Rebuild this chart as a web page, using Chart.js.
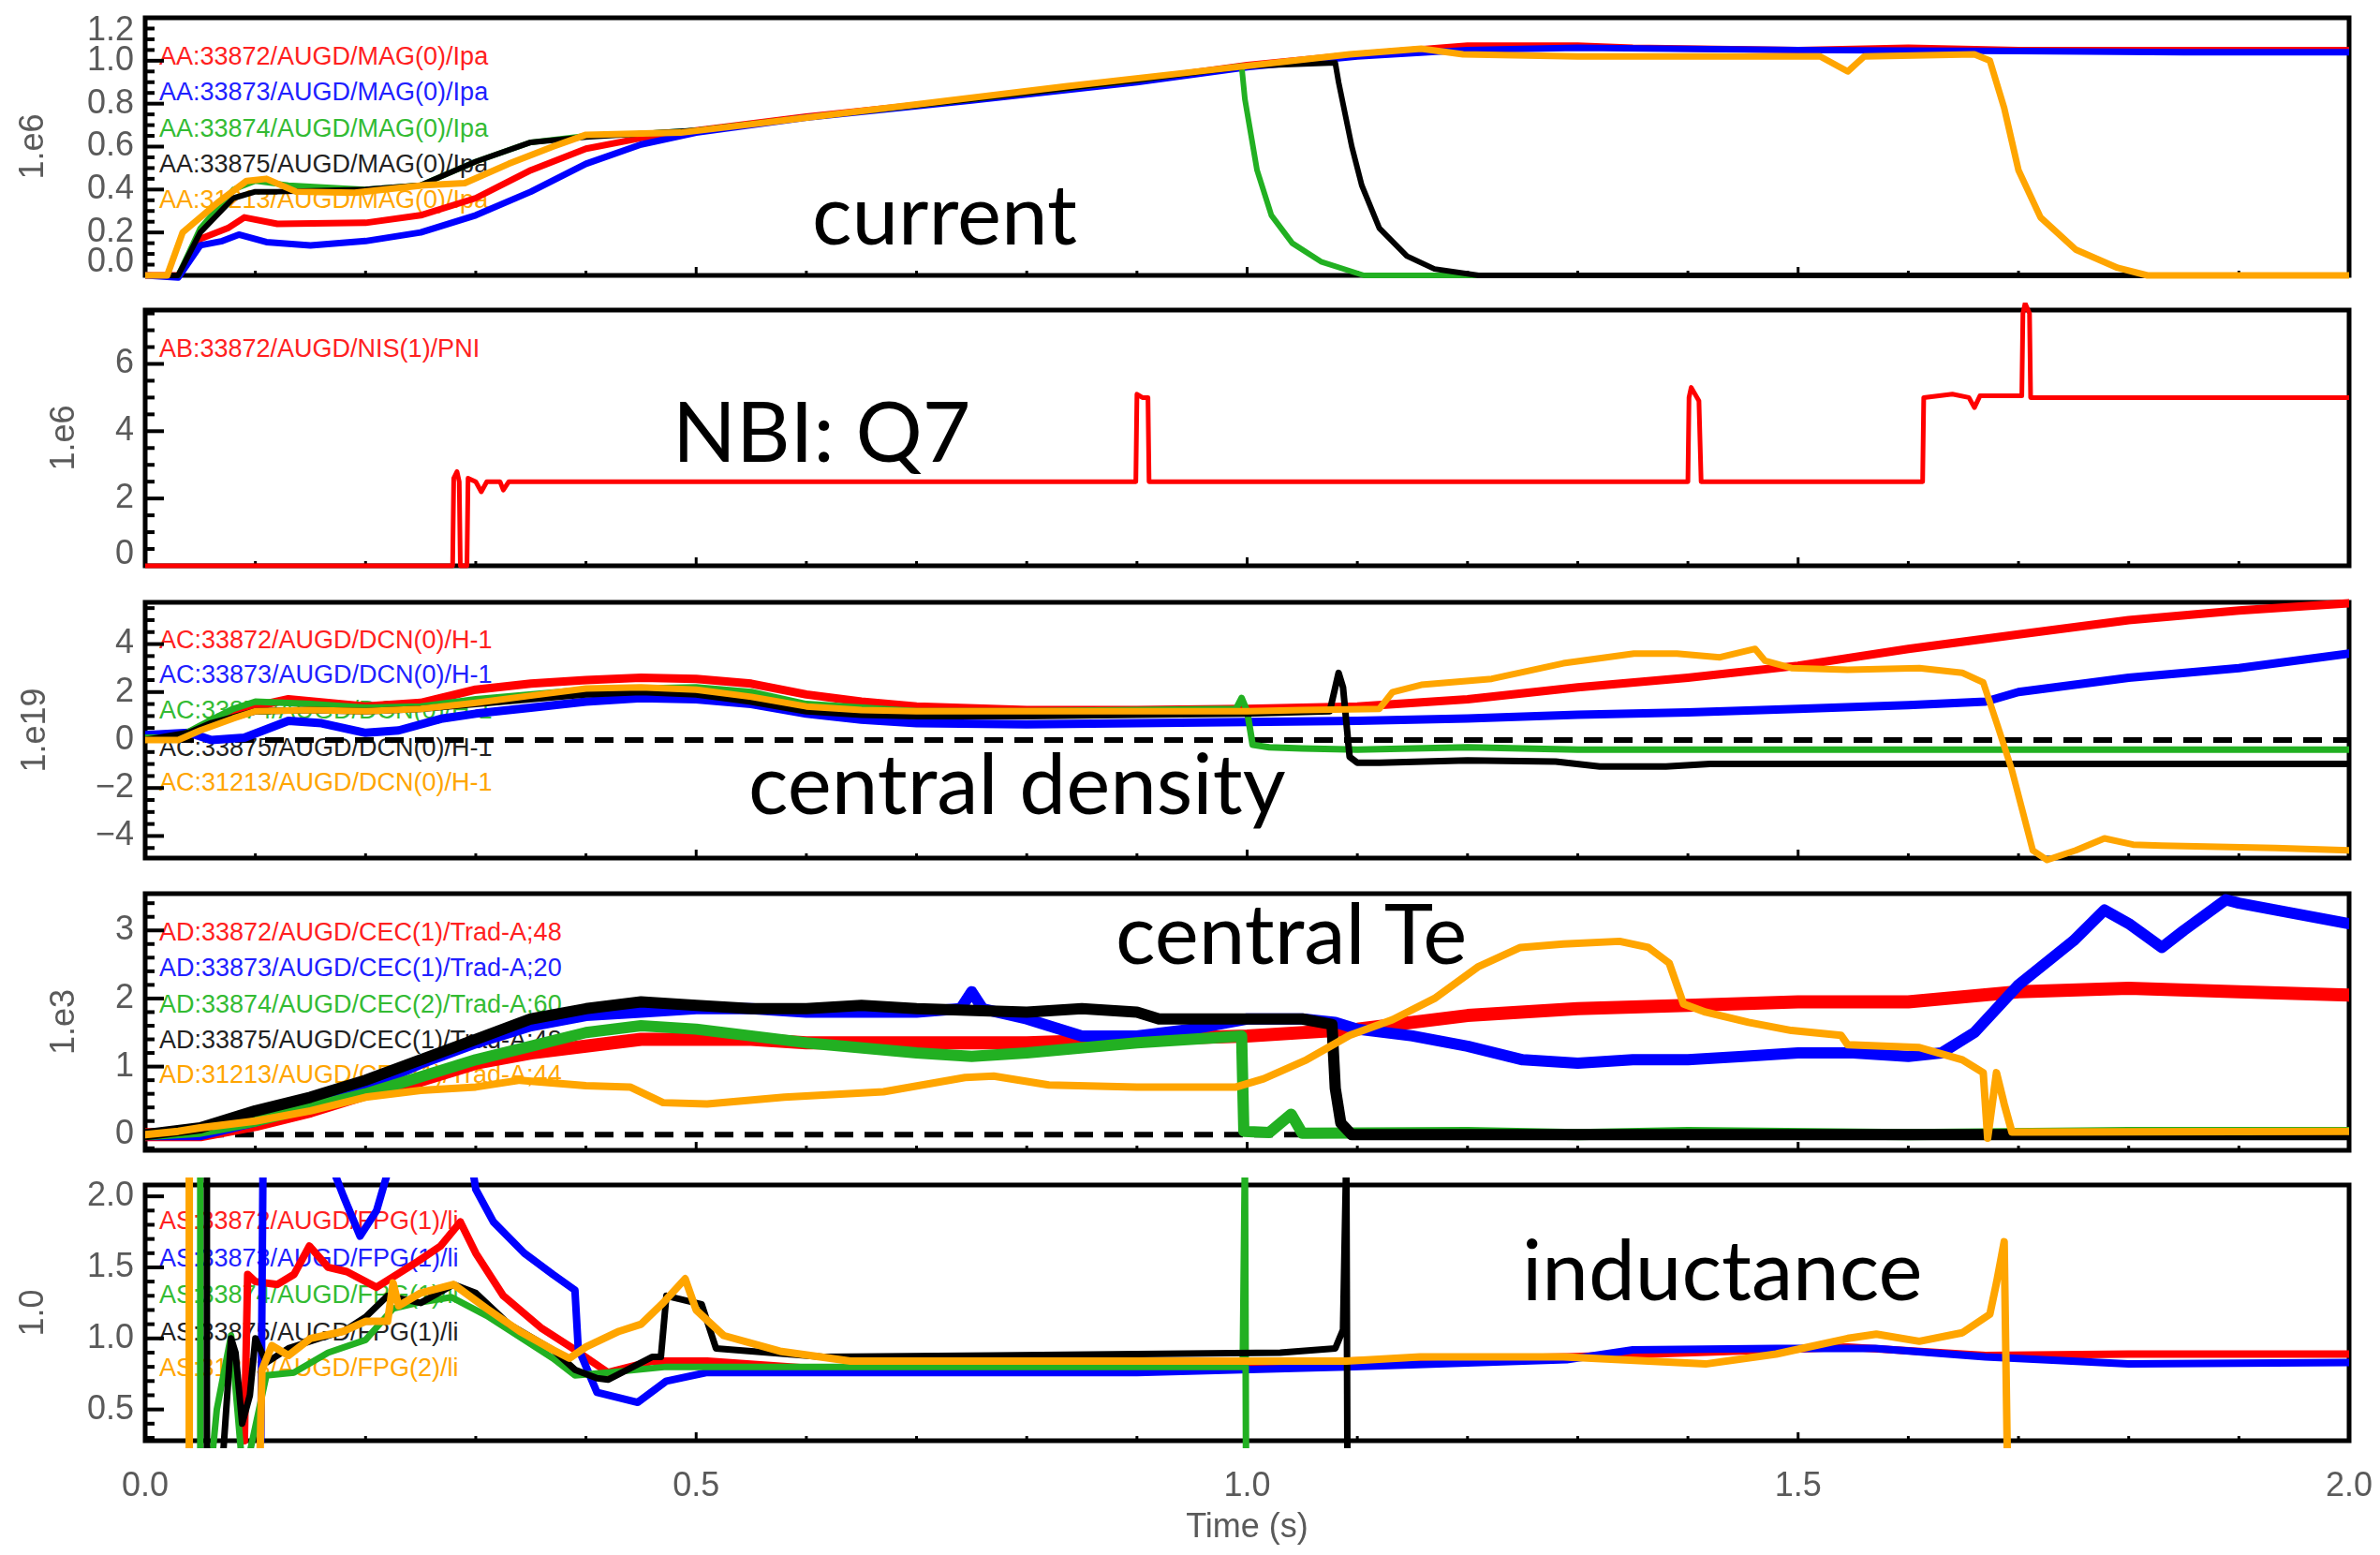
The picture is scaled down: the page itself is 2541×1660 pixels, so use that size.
<!DOCTYPE html>
<html>
<head>
<meta charset="utf-8">
<script src="https://cdn.jsdelivr.net/npm/chart.js@4.4.0/dist/chart.umd.min.js"></script>
<style>
  body { margin: 0; width: 2541px; height: 1660px; background: #fff; position: relative; overflow: hidden; }
  canvas { position: absolute; left: 0; }
  .leg { position: absolute; left: 170px; font: 27px "Liberation Sans", Arial, sans-serif; line-height: 1; white-space: nowrap; transform: translateY(-50%); }
  .big { position: absolute; font: 89px Lato, "Open Sans", sans-serif; line-height: 90px; white-space: nowrap; color: #000; }
</style>
</head>
<body>

<!-- series labels, sit under the traces like in the original plot -->
<div class="leg" style="top:60px;color:#ff2020">AA:33872/AUGD/MAG(0)/Ipa</div>
<div class="leg" style="top:98px;color:#2020ff">AA:33873/AUGD/MAG(0)/Ipa</div>
<div class="leg" style="top:137px;color:#33bb33">AA:33874/AUGD/MAG(0)/Ipa</div>
<div class="leg" style="top:175px;color:#222">AA:33875/AUGD/MAG(0)/Ipa</div>
<div class="leg" style="top:213px;color:#ffa500">AA:31213/AUGD/MAG(0)/Ipa</div>

<div class="leg" style="top:372px;color:#ff2020">AB:33872/AUGD/NIS(1)/PNI</div>

<div class="leg" style="top:683px;color:#ff2020">AC:33872/AUGD/DCN(0)/H-1</div>
<div class="leg" style="top:720px;color:#2020ff">AC:33873/AUGD/DCN(0)/H-1</div>
<div class="leg" style="top:758px;color:#33bb33">AC:33874/AUGD/DCN(0)/H-1</div>
<div class="leg" style="top:798px;color:#222">AC:33875/AUGD/DCN(0)/H-1</div>
<div class="leg" style="top:835px;color:#ffa500">AC:31213/AUGD/DCN(0)/H-1</div>

<div class="leg" style="top:995px;color:#ff2020">AD:33872/AUGD/CEC(1)/Trad-A;48</div>
<div class="leg" style="top:1033px;color:#2020ff">AD:33873/AUGD/CEC(1)/Trad-A;20</div>
<div class="leg" style="top:1072px;color:#33bb33">AD:33874/AUGD/CEC(2)/Trad-A;60</div>
<div class="leg" style="top:1110px;color:#222">AD:33875/AUGD/CEC(1)/Trad-A;48</div>
<div class="leg" style="top:1147px;color:#ffa500">AD:31213/AUGD/CEC(1)/Trad-A;44</div>

<div class="leg" style="top:1303px;color:#ff2020">AS:33872/AUGD/FPG(1)/li</div>
<div class="leg" style="top:1343px;color:#2020ff">AS:33873/AUGD/FPG(1)/li</div>
<div class="leg" style="top:1382px;color:#33bb33">AS:33874/AUGD/FPG(1)/li</div>
<div class="leg" style="top:1422px;color:#222">AS:33875/AUGD/FPG(1)/li</div>
<div class="leg" style="top:1460px;color:#ffa500">AS:31213/AUGD/FPG(2)/li</div>

<canvas id="cIp"></canvas>
<canvas id="cNbi"></canvas>
<canvas id="cNe"></canvas>
<canvas id="cTe"></canvas>
<canvas id="cLi"></canvas>

<div class="big" style="left:867px;top:182px">current</div>
<div class="big" style="left:718px;top:414px">NBI: Q7</div>
<div class="big" style="left:799px;top:790px">central density</div>
<div class="big" style="left:1191px;top:950px">central Te</div>
<div class="big" style="left:1625px;top:1309px">inductance</div>

<script>
////////////////////////////// DATA: [time (s), value] //////////////////////////////

// plasma current, 1e6 A
const ip33872 = [[0,0],[0.03,0],[0.05,0.17],[0.075,0.22],[0.09,0.27],[0.12,0.24],[0.2,0.245],[0.25,0.28],[0.3,0.36],[0.35,0.49],[0.4,0.59],[0.45,0.64],[0.5,0.675],[0.6,0.74],[0.75,0.82],[0.9,0.91],[1.0,0.98],[1.1,1.03],[1.2,1.07],[1.3,1.07],[1.35,1.06],[1.5,1.05],[1.6,1.06],[1.7,1.05],[1.8,1.05],[1.9,1.05],[2.0,1.05]];
const ip33873 = [[0,0],[0.03,-0.01],[0.05,0.14],[0.07,0.16],[0.085,0.19],[0.11,0.155],[0.15,0.14],[0.2,0.16],[0.25,0.2],[0.3,0.28],[0.35,0.39],[0.4,0.52],[0.45,0.61],[0.5,0.665],[0.6,0.735],[0.75,0.815],[0.9,0.9],[1.0,0.97],[1.1,1.02],[1.2,1.05],[1.3,1.06],[1.5,1.05],[1.7,1.045],[1.85,1.04],[2.0,1.04]];
const ip33874 = [[0,0],[0.03,0],[0.05,0.22],[0.08,0.4],[0.1,0.44],[0.13,0.42],[0.2,0.4],[0.25,0.42],[0.3,0.53],[0.35,0.62],[0.4,0.65],[0.45,0.66],[0.5,0.675],[0.6,0.735],[0.75,0.82],[0.9,0.91],[0.995,0.975],[0.998,0.82],[1.009,0.49],[1.022,0.28],[1.041,0.15],[1.067,0.064],[1.106,0],[1.5,0],[2.0,0]];
const ip33875 = [[0,0],[0.03,0],[0.05,0.2],[0.08,0.36],[0.1,0.39],[0.12,0.39],[0.2,0.4],[0.25,0.42],[0.3,0.53],[0.35,0.62],[0.4,0.645],[0.45,0.66],[0.5,0.675],[0.6,0.735],[0.75,0.82],[0.9,0.91],[1.0,0.975],[1.08,0.99],[1.083,0.9],[1.095,0.6],[1.104,0.42],[1.12,0.22],[1.145,0.09],[1.17,0.03],[1.21,0],[2.0,0]];
const ip31213 = [[0,0],[0.02,0],[0.034,0.2],[0.066,0.34],[0.092,0.44],[0.11,0.45],[0.137,0.39],[0.19,0.385],[0.253,0.42],[0.29,0.43],[0.33,0.52],[0.37,0.6],[0.4,0.655],[0.486,0.665],[0.576,0.72],[0.705,0.8],[0.835,0.88],[0.964,0.955],[1.093,1.03],[1.158,1.056],[1.196,1.03],[1.3,1.02],[1.45,1.02],[1.52,1.02],[1.545,0.95],[1.56,1.02],[1.66,1.03],[1.674,1.0],[1.687,0.78],[1.70,0.49],[1.72,0.27],[1.752,0.12],[1.79,0.035],[1.817,0],[2.0,0]];

// NBI power, 1e6 W
const pni33872 = [[0,0],[0.279,0],[0.28,2.6],[0.283,2.8],[0.285,2.5],[0.286,0],[0.292,0],[0.293,2.6],[0.3,2.5],[0.305,2.2],[0.31,2.5],[0.322,2.5],[0.325,2.25],[0.33,2.5],[0.899,2.5],[0.9,5.1],[0.905,5.0],[0.91,5.0],[0.911,2.5],[1.4,2.5],[1.401,5.0],[1.403,5.3],[1.41,4.9],[1.412,2.5],[1.613,2.5],[1.614,5.0],[1.64,5.1],[1.655,5.0],[1.66,4.7],[1.665,5.05],[1.703,5.05],[1.704,7.5],[1.706,7.8],[1.71,7.5],[1.711,5.0],[2.0,5.0]];

// central density, 1e19 m^-3
const ne33872 = [[0,0.1],[0.03,0.1],[0.05,0.5],[0.08,1.0],[0.1,1.4],[0.13,1.7],[0.2,1.4],[0.25,1.55],[0.3,2.1],[0.35,2.35],[0.4,2.5],[0.45,2.6],[0.5,2.55],[0.55,2.35],[0.6,1.9],[0.65,1.6],[0.7,1.4],[0.8,1.25],[0.9,1.25],[1.0,1.3],[1.1,1.4],[1.2,1.7],[1.3,2.2],[1.4,2.6],[1.5,3.1],[1.6,3.8],[1.7,4.4],[1.8,5.0],[1.9,5.4],[2.0,5.7]];
const ne33873 = [[0,0.2],[0.04,0.3],[0.06,0.0],[0.09,0.1],[0.13,0.8],[0.16,0.7],[0.2,0.3],[0.23,0.4],[0.27,0.9],[0.3,1.1],[0.35,1.35],[0.4,1.6],[0.45,1.75],[0.5,1.7],[0.55,1.5],[0.6,1.1],[0.65,0.85],[0.7,0.7],[0.8,0.65],[0.9,0.7],[1.0,0.75],[1.1,0.8],[1.2,0.9],[1.3,1.05],[1.4,1.15],[1.5,1.3],[1.6,1.45],[1.67,1.6],[1.7,2.0],[1.8,2.6],[1.9,3.0],[2.0,3.6]];
const ne33874 = [[0,0.1],[0.03,0.1],[0.05,0.6],[0.08,1.3],[0.1,1.6],[0.15,1.5],[0.2,1.35],[0.25,1.4],[0.3,1.7],[0.4,2.1],[0.5,2.2],[0.55,2.0],[0.6,1.5],[0.7,1.2],[0.8,1.2],[0.9,1.25],[0.99,1.3],[0.995,1.75],[1.0,1.2],[1.005,-0.2],[1.02,-0.3],[1.05,-0.35],[1.1,-0.4],[1.2,-0.3],[1.3,-0.4],[1.5,-0.4],[1.7,-0.4],[2.0,-0.4]];
const ne33875 = [[0,0.0],[0.04,0.3],[0.06,0.7],[0.1,1.2],[0.15,1.25],[0.2,1.2],[0.25,1.3],[0.3,1.5],[0.4,1.9],[0.45,2.0],[0.5,1.9],[0.55,1.6],[0.6,1.2],[0.65,1.05],[0.7,1.0],[0.8,1.0],[0.9,1.05],[1.0,1.1],[1.075,1.2],[1.083,2.8],[1.087,2.2],[1.093,-0.7],[1.1,-0.95],[1.12,-0.95],[1.2,-0.85],[1.28,-0.9],[1.32,-1.1],[1.38,-1.1],[1.42,-1.0],[1.6,-1.0],[1.8,-1.0],[2.0,-1.0]];
const ne31213 = [[0,0.0],[0.03,0.0],[0.05,0.4],[0.08,0.9],[0.1,1.2],[0.15,1.25],[0.2,1.2],[0.25,1.3],[0.3,1.55],[0.35,1.85],[0.4,2.15],[0.45,2.2],[0.5,2.1],[0.55,1.8],[0.6,1.4],[0.65,1.25],[0.7,1.2],[0.8,1.2],[0.9,1.2],[1.0,1.2],[1.05,1.25],[1.12,1.3],[1.132,2.0],[1.158,2.3],[1.222,2.55],[1.287,3.2],[1.351,3.6],[1.39,3.6],[1.429,3.45],[1.461,3.8],[1.47,3.3],[1.494,3.0],[1.545,2.93],[1.61,3.0],[1.649,2.8],[1.668,2.4],[1.681,0.6],[1.694,-1.25],[1.713,-4.6],[1.726,-5.0],[1.752,-4.6],[1.778,-4.1],[1.804,-4.36],[1.83,-4.4],[1.933,-4.5],[2.0,-4.6]];

// central electron temperature, 1e3 eV
const te33872 = [[0,0.0],[0.05,0.0],[0.1,0.15],[0.15,0.35],[0.2,0.6],[0.25,0.8],[0.3,1.05],[0.35,1.2],[0.4,1.3],[0.45,1.4],[0.5,1.4],[0.55,1.4],[0.6,1.35],[0.7,1.35],[0.8,1.35],[0.9,1.4],[1.0,1.45],[1.1,1.55],[1.2,1.75],[1.3,1.85],[1.4,1.9],[1.5,1.95],[1.6,1.95],[1.7,2.1],[1.8,2.15],[1.9,2.1],[2.0,2.05]];
const te33873 = [[0,0.0],[0.05,0.0],[0.1,0.2],[0.15,0.45],[0.2,0.7],[0.25,1.05],[0.3,1.35],[0.35,1.6],[0.4,1.75],[0.45,1.8],[0.5,1.85],[0.55,1.85],[0.6,1.8],[0.7,1.8],[0.74,1.85],[0.75,2.1],[0.76,1.85],[0.8,1.7],[0.85,1.45],[0.9,1.45],[0.95,1.55],[1.0,1.7],[1.05,1.7],[1.08,1.65],[1.1,1.55],[1.15,1.45],[1.2,1.3],[1.25,1.1],[1.3,1.05],[1.35,1.1],[1.4,1.1],[1.45,1.15],[1.5,1.2],[1.55,1.2],[1.6,1.15],[1.63,1.2],[1.66,1.5],[1.7,2.2],[1.75,2.85],[1.778,3.3],[1.8,3.1],[1.83,2.75],[1.85,3.0],[1.888,3.45],[1.9,3.4],[1.95,3.25],[2.0,3.1]];
const te33874 = [[0,0.0],[0.05,0.05],[0.1,0.2],[0.15,0.4],[0.2,0.6],[0.25,0.85],[0.3,1.1],[0.35,1.3],[0.4,1.5],[0.45,1.6],[0.5,1.55],[0.55,1.45],[0.6,1.35],[0.7,1.2],[0.75,1.15],[0.8,1.2],[0.9,1.35],[0.995,1.45],[0.997,0.05],[1.02,0.03],[1.04,0.3],[1.05,0.02],[1.2,0.03],[1.3,0.0],[1.4,0.03],[1.6,0.0],[1.8,0.03],[2.0,0.03]];
const te33875 = [[0,0.0],[0.05,0.1],[0.1,0.35],[0.15,0.55],[0.2,0.8],[0.25,1.1],[0.3,1.4],[0.35,1.7],[0.4,1.85],[0.45,1.95],[0.5,1.9],[0.55,1.85],[0.6,1.85],[0.65,1.9],[0.7,1.85],[0.8,1.8],[0.85,1.85],[0.9,1.8],[0.92,1.7],[1.0,1.7],[1.05,1.7],[1.077,1.62],[1.08,0.68],[1.085,0.17],[1.095,0.0],[1.5,0.0],[2.0,0.0]];
const te31213 = [[0,0.0],[0.03,0.05],[0.05,0.1],[0.1,0.2],[0.15,0.35],[0.2,0.55],[0.25,0.65],[0.3,0.7],[0.34,0.8],[0.4,0.72],[0.44,0.7],[0.47,0.47],[0.51,0.45],[0.58,0.55],[0.67,0.63],[0.744,0.84],[0.77,0.86],[0.82,0.73],[0.9,0.7],[0.99,0.7],[1.015,0.82],[1.054,1.1],[1.093,1.46],[1.132,1.69],[1.17,2.0],[1.21,2.47],[1.248,2.75],[1.287,2.8],[1.338,2.84],[1.364,2.75],[1.383,2.52],[1.396,1.92],[1.416,1.8],[1.455,1.65],[1.494,1.53],[1.539,1.46],[1.545,1.32],[1.61,1.28],[1.649,1.1],[1.668,0.91],[1.672,-0.05],[1.68,0.91],[1.687,0.45],[1.694,0.04],[2.0,0.05]];

// internal inductance li
const li33872 = [[0.09,0.28],[0.093,1.45],[0.1,1.4],[0.12,1.38],[0.135,1.45],[0.149,1.65],[0.166,1.5],[0.183,1.47],[0.21,1.36],[0.247,1.54],[0.268,1.65],[0.286,1.82],[0.3,1.6],[0.325,1.3],[0.36,1.07],[0.39,0.92],[0.42,0.76],[0.46,0.84],[0.51,0.84],[0.64,0.77],[0.9,0.78],[1.09,0.84],[1.29,0.87],[1.48,0.92],[1.545,0.94],[1.67,0.88],[1.8,0.89],[2.0,0.89]];
const li33873 = [[0.105,0.28],[0.107,2.3],[0.165,2.3],[0.18,2.0],[0.195,1.72],[0.21,1.9],[0.225,2.3],[0.295,2.3],[0.3,2.05],[0.316,1.82],[0.344,1.6],[0.37,1.45],[0.39,1.34],[0.393,0.93],[0.41,0.62],[0.447,0.55],[0.473,0.7],[0.51,0.76],[0.64,0.76],[0.9,0.76],[1.09,0.8],[1.29,0.85],[1.35,0.92],[1.48,0.93],[1.57,0.93],[1.67,0.87],[1.8,0.82],[2.0,0.83]];
const li33874 = [[0.05,2.3],[0.05,0.1],[0.06,0.1],[0.065,0.5],[0.078,1.02],[0.087,0.2],[0.095,0.2],[0.11,0.74],[0.135,0.76],[0.166,0.9],[0.2,0.99],[0.225,1.21],[0.247,1.25],[0.278,1.29],[0.31,1.16],[0.344,0.99],[0.37,0.86],[0.39,0.74],[0.42,0.76],[0.473,0.8],[0.64,0.8],[0.9,0.8],[0.996,0.8],[0.998,2.3],[0.999,0.1]];
const li33875 = [[0.056,2.3],[0.056,0.1],[0.07,0.1],[0.078,1.0],[0.082,0.9],[0.088,0.4],[0.095,0.6],[0.1,1.0],[0.11,0.83],[0.13,0.93],[0.166,1.02],[0.18,1.05],[0.2,1.15],[0.22,1.3],[0.25,1.25],[0.28,1.38],[0.3,1.32],[0.33,1.1],[0.37,0.92],[0.39,0.78],[0.41,0.72],[0.42,0.71],[0.46,0.87],[0.468,0.87],[0.473,1.3],[0.505,1.24],[0.518,0.93],[0.55,0.91],[0.615,0.87],[0.77,0.88],[0.9,0.89],[1.03,0.9],[1.08,0.93],[1.087,1.06],[1.09,2.3],[1.091,0.1]];
const li31213 = [[0.04,2.3],[0.04,0.1],[0.104,0.1],[0.106,0.78],[0.115,0.95],[0.13,0.88],[0.15,1.0],[0.18,1.05],[0.2,1.12],[0.22,1.12],[0.225,1.39],[0.23,1.23],[0.25,1.32],[0.28,1.38],[0.31,1.21],[0.34,1.05],[0.37,0.92],[0.385,0.86],[0.4,0.94],[0.43,1.05],[0.45,1.1],[0.47,1.25],[0.49,1.42],[0.5,1.2],[0.525,1.02],[0.576,0.91],[0.64,0.84],[0.9,0.84],[1.09,0.84],[1.157,0.87],[1.287,0.87],[1.416,0.82],[1.48,0.89],[1.545,1.0],[1.571,1.03],[1.61,0.98],[1.649,1.04],[1.674,1.17],[1.68,1.39],[1.687,1.68],[1.69,0.1]];

// zero reference (dashed)
const zeroLine = [[0,0],[2,0]];

// axis ticks
const ipTicks = [0, 0.2, 0.4, 0.6, 0.8, 1.0, 1.2];
const ipLabels = ['0.0', '0.2', '0.4', '0.6', '0.8', '1.0', '1.2'];
const nbiTicks = [0, 2, 4, 6];
const nbiLabels = ['0', '2', '4', '6'];
const neTicks = [-4, -2, 0, 2, 4];
const neLabels = ['\u22124', '\u22122', '0', '2', '4'];
const teTicks = [0, 1, 2, 3];
const teLabels = ['0', '1', '2', '3'];
const liTicks = [0.5, 1.0, 1.5, 2.0];
const liLabels = ['0.5', '1.0', '1.5', '2.0'];
const timeTicks = [0, 0.5, 1.0, 1.5, 2.0];
const timeLabels = ['0.0', '0.5', '1.0', '1.5', '2.0'];

////////////////////////////// CHART SETUP //////////////////////////////
const W = 2541, H = 1660, AX_L = 155, AX_R = 2508;
const RED = '#ff0000', BLUE = '#0000ff', GREEN = '#22b022', BLACK = '#000000', ORANGE = '#ffa500';
const LABEL_FONT = { family: '"Liberation Sans", Arial, sans-serif', size: 36 };
const GREY = '#5a5a5a';

function toXY(arr) {
  return arr.map((p) => ({ x: p[0], y: p[1] }));
}

function trace(data, color, width, order) {
  return {
    data: toXY(data),
    borderColor: color,
    borderWidth: width,
    pointRadius: 0,
    tension: 0,
    fill: false,
    order: order,
    borderJoinStyle: 'round',
    borderCapStyle: 'round',
    clip: { left: 0, right: 0, top: 8, bottom: 8 },
  };
}

function dashed() {
  return {
    data: toXY(zeroLine),
    borderColor: BLACK,
    borderWidth: 6,
    borderDash: [20, 12],
    pointRadius: 0,
    order: 9,
  };
}

// no extra room for edge labels: the box must sit exactly where the original has it
function noPad(s) {
  s.paddingTop = 0;
  s.paddingBottom = 0;
  s.paddingLeft = 0;
  s.paddingRight = 0;
}

// frame + inward ticks, drawn under the traces
const framePlugin = {
  id: 'frame',
  beforeDatasetsDraw(chart, args, o) {
    const { ctx, chartArea: a, scales } = chart;
    const x = scales.x, y = scales.y;
    ctx.save();
    ctx.strokeStyle = '#000';
    ctx.lineWidth = 4;
    const k0 = Math.ceil(y.min / o.minor - 1e-6);
    for (let k = k0; k * o.minor <= y.max + 1e-9; k++) {
      const v = k * o.minor;
      const major = o.major.some((m) => Math.abs(m - v) < 1e-6);
      const py = y.getPixelForValue(v);
      ctx.beginPath();
      ctx.moveTo(a.left, py);
      ctx.lineTo(a.left + (major ? 20 : 10), py);
      ctx.stroke();
    }
    ctx.lineWidth = 3;
    for (let k = 0; k <= 20; k++) {
      const px = x.getPixelForValue(k / 10);
      ctx.beginPath();
      ctx.moveTo(px, a.bottom);
      ctx.lineTo(px, a.bottom - (k % 5 === 0 ? 9 : 5));
      ctx.stroke();
    }
    ctx.lineWidth = 5;
    ctx.strokeRect(a.left, a.top, a.right - a.left, a.bottom - a.top);
    ctx.restore();
  },
};

function panel(id, top, h, o) {
  const cv = document.getElementById(id);
  const padT = 10;
  const room = o.last ? H - top - h : 10;
  cv.width = W;
  cv.height = h + padT + room;
  cv.style.top = (top - padT) + 'px';

  // labels at the very edge of the box get pushed inside (IDL does that)
  const perPx = (o.max - o.min) / h;
  const nudge = (v) => {
    if (Math.abs(v - o.min) < 1e-9) return v + (o.nudge || 0) * perPx;
    if (Math.abs(v - o.max) < 0.02 * (o.max - o.min)) return v - (o.nudge || 0) * perPx;
    return v;
  };

  const xScale = {
    type: 'linear', min: 0, max: 2, display: !!o.last,
    grid: { display: false, drawTicks: false }, border: { display: false },
    afterFit: (s) => { noPad(s); if (o.last) s.height = room; },
  };
  if (o.last) {
    xScale.afterBuildTicks = (s) => { s.ticks = timeTicks.map((v) => ({ value: v })); };
    xScale.ticks = { autoSkip: false, maxRotation: 0, padding: 27, color: GREY, font: LABEL_FONT, callback: (v, i) => timeLabels[i] };
    xScale.title = { display: true, text: 'Time (s)', color: GREY, font: LABEL_FONT, padding: { top: 0, bottom: 7 } };
  }

  return new Chart(cv, {
    type: 'line',
    data: { datasets: o.datasets },
    options: {
      responsive: false,
      animation: false,
      devicePixelRatio: 1,
      parsing: false,
      layout: { padding: { top: padT, right: W - AX_R, bottom: o.last ? 0 : room, left: 0 } },
      plugins: {
        legend: { display: false },
        tooltip: { enabled: false },
        frame: { minor: o.minor, major: o.ticks },
      },
      scales: {
        x: xScale,
        y: {
          type: 'linear', min: o.min, max: o.max,
          grid: { display: false, drawTicks: false }, border: { display: false },
          afterFit: (s) => { noPad(s); s.width = AX_L; },
          afterBuildTicks: (s) => { s.ticks = o.ticks.map((v) => ({ value: nudge(v) })); },
          ticks: { autoSkip: false, padding: 12, color: GREY, font: LABEL_FONT, callback: (v, i) => o.labels[i] },
          title: { display: true, text: o.title, color: GREY, font: LABEL_FONT, padding: { top: o.titlePad, bottom: 0 } },
        },
      },
    },
    plugins: [framePlugin],
  });
}

////////////////////////////// PANELS //////////////////////////////
panel('cIp', 19, 275, {
  min: 0, max: 1.2, ticks: ipTicks, labels: ipLabels, minor: 0.05, nudge: 14, title: '1.e6', titlePad: 14,
  datasets: [
    trace(ip33872, RED, 7, 5), trace(ip33873, BLUE, 7, 4), trace(ip33874, GREEN, 6, 3),
    trace(ip33875, BLACK, 6, 2), trace(ip31213, ORANGE, 7, 1),
  ],
});

panel('cNbi', 331, 273, {
  min: 0, max: 7.6, ticks: nbiTicks, labels: nbiLabels, minor: 0.5, nudge: 12, title: '1.e6', titlePad: 47,
  datasets: [trace(pni33872, RED, 5, 1)],
});

panel('cNe', 643, 273, {
  min: -4.92, max: 5.74, ticks: neTicks, labels: neLabels, minor: 0.5, title: '1.e19', titlePad: 16,
  datasets: [
    dashed(),
    trace(ne33872, RED, 9, 5), trace(ne33873, BLUE, 9, 4), trace(ne33874, GREEN, 7, 3),
    trace(ne33875, BLACK, 7, 2), trace(ne31213, ORANGE, 7, 1),
  ],
});

panel('cTe', 954, 274, {
  min: -0.23, max: 3.54, ticks: teTicks, labels: teLabels, minor: 0.2, title: '1.e3', titlePad: 47,
  datasets: [
    dashed(),
    trace(te33872, RED, 14, 5), trace(te33873, BLUE, 12, 4), trace(te33874, GREEN, 12, 3),
    trace(te33875, BLACK, 12, 2), trace(te31213, ORANGE, 8, 1),
  ],
});

panel('cLi', 1265, 273, {
  last: true,
  min: 0.28, max: 2.08, ticks: liTicks, labels: liLabels, minor: 0.1, title: '1.0', titlePad: 14,
  datasets: [
    trace(li33872, RED, 8, 5), trace(li33873, BLUE, 8, 4), trace(li33874, GREEN, 7, 3),
    trace(li33875, BLACK, 7, 2), trace(li31213, ORANGE, 8, 1),
  ],
});
</script>
</body>
</html>
